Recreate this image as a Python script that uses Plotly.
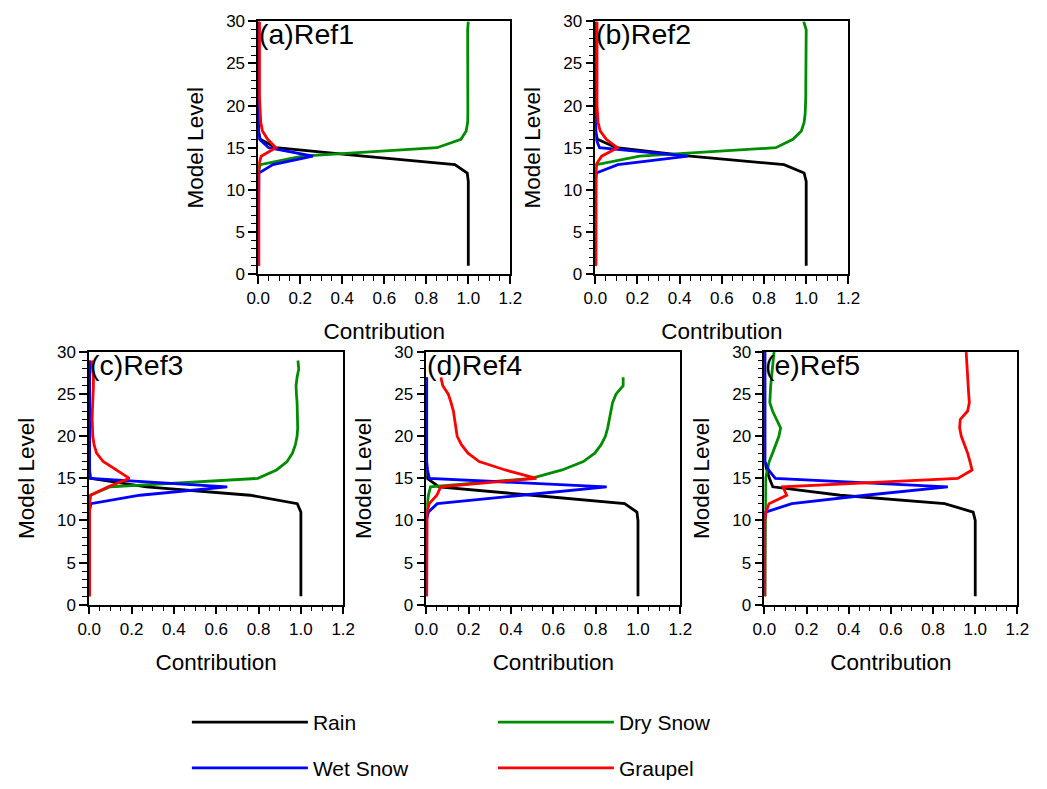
import plotly.graph_objects as go

# ---------------- data ----------------
levels_a = list(range(1, 31))
rain_a = [1.0]*11 + [0.995, 0.936, 0.50, 0.084, 0.01] + [0.0]*14
dry_a = [0.0]*12 + [0.01, 0.21, 0.851, 0.965, 0.99, 0.997, 0.998, 0.998, 0.997, 0.996,
                    0.996, 0.995, 0.995, 0.995, 0.996, 0.995, 0.997, 1.0]
wet_a = [0.0]*11 + [0.003, 0.07, 0.26, 0.05, 0.006] + [0.002]*14
graupel_a = [0.003]*13 + [0.014, 0.084, 0.045, 0.02, 0.012, 0.009, 0.007] + [0.006]*10

levels_b = list(range(1, 31))
rain_b = [1.0]*11 + [0.99, 0.895, 0.45, 0.10, 0.01] + [0.0]*14
dry_b = [0.0]*12 + [0.006, 0.21, 0.856, 0.937, 0.977, 0.99, 0.995] + [0.998]*9 + [1.0, 0.988]
wet_b = [0.0]*11 + [0.005, 0.107, 0.44, 0.02, 0.004] + [0.002]*14
graupel_b = [0.003]*12 + [0.004, 0.03, 0.105, 0.052, 0.023, 0.013, 0.01] + [0.008]*11

levels_c = list(range(1, 30))
rain_c = [1.0]*11 + [0.983, 0.76, 0.27, 0.005] + [0.0]*14
dry_c = [0.0]*12 + [0.006, 0.10, 0.797, 0.885, 0.935, 0.96, 0.974, 0.982, 0.985, 0.985,
                    0.984, 0.982, 0.979, 0.977, 0.982, 0.99, 0.986]
wet_c = [0.0]*11 + [0.008, 0.24, 0.652, 0.006] + [0.002]*14
graupel_c = [0.002]*12 + [0.006, 0.09, 0.19, 0.128, 0.066, 0.035, 0.023, 0.017, 0.015,
                          0.014, 0.015, 0.017, 0.02, 0.02, 0.02, 0.017, 0.012]

levels_d = list(range(1, 28))
rain_d = [1.0]*10 + [0.995, 0.937, 0.50, 0.06, 0.005] + [0.0]*12
dry_d = [0.0]*10 + [0.004, 0.005, 0.01, 0.02, 0.496, 0.642, 0.742, 0.796, 0.826, 0.846,
                    0.857, 0.865, 0.872, 0.88, 0.896, 0.93, 0.93]
wet_d = [0.0]*10 + [0.01, 0.052, 0.45, 0.852, 0.014, 0.006] + [0.002]*11
graupel_d = [0.002]*10 + [0.004, 0.014, 0.05, 0.068, 0.52, 0.373, 0.25, 0.197, 0.166,
                          0.146, 0.14, 0.135, 0.128, 0.117, 0.104, 0.078, 0.069]

levels_e = list(range(1, 31))
rain_e = [1.0]*10 + [0.99, 0.855, 0.36, 0.04, 0.024, 0.012] + [0.0]*14
dry_e = [0.003]*14 + [0.006, 0.014, 0.023, 0.039, 0.054, 0.069, 0.077, 0.059, 0.039,
                      0.026, 0.027, 0.03, 0.034, 0.038, 0.042, 0.046]
wet_e = [0.0]*10 + [0.006, 0.13, 0.48, 0.87, 0.052, 0.02] + [0.003]*14
graupel_e = [0.002]*10 + [0.008, 0.022, 0.106, 0.088, 0.917, 0.985, 0.975, 0.964, 0.949,
                          0.934, 0.926, 0.929, 0.964, 0.972, 0.969, 0.967, 0.964, 0.962,
                          0.96, 0.957]

panel_labels = ["(a)Ref1", "(b)Ref2", "(c)Ref3", "(d)Ref4", "(e)Ref5"]
series_names = ["Rain", "Dry Snow", "Wet Snow", "Graupel"]
series_colors = ["#000000", "#008c00", "#0000ff", "#ff0000"]

panels = [
    (levels_a, [rain_a, dry_a, wet_a, graupel_a]),
    (levels_b, [rain_b, dry_b, wet_b, graupel_b]),
    (levels_c, [rain_c, dry_c, wet_c, graupel_c]),
    (levels_d, [rain_d, dry_d, wet_d, graupel_d]),
    (levels_e, [rain_e, dry_e, wet_e, graupel_e]),
]

# ---------------- layout geometry (pixels of a 1047x789 page) ----------------
W, H = 1047, 789
boxes = [  # x0, x1, ytop, ybottom in px
    (252, 510, 12.7, 272),
    (597, 856, 12.7, 272),
    (79, 339, 352, 611.2),
    (424, 684, 352, 611.2),
    (770, 1029, 352, 611.2),
]

FONT = "Liberation Sans, Arial, Helvetica, sans-serif"
fig = go.Figure()

legend_of = {"Rain": "legend", "Dry Snow": "legend", "Wet Snow": "legend2", "Graupel": "legend2"}

for i, (lev, ser) in enumerate(panels):
    n = "" if i == 0 else str(i + 1)
    for name, col, vals in zip(series_names, series_colors, ser):
        fig.add_trace(go.Scatter(
            x=vals, y=lev, mode="lines", name=name,
            line=dict(color=col, width=2.8),
            xaxis="x" + n, yaxis="y" + n,
            showlegend=(i == 0), legend=legend_of[name],
        ))
    x0, x1, yt, yb = boxes[i]
    axis_common = dict(
        showline=True, mirror=True, linecolor="black", linewidth=1.5,
        showgrid=False, zeroline=False, ticks="outside", ticklen=8, tickwidth=1.5,
        tickcolor="black", tickfont=dict(family=FONT, size=17, color="black"),
        layer="below traces",
    )
    fig.update_layout(**{
        "xaxis" + n: dict(
            axis_common, domain=[x0 / W, x1 / W], range=[0, 1.2], dtick=0.2, tick0=0,
            tickformat=".1f", anchor="y" + n,
            minor=dict(dtick=0.05, ticklen=5, tickwidth=1, ticks="outside", tickcolor="black"),
            title=dict(text="Contribution", font=dict(family=FONT, size=22.5, color="black"), standoff=16),
        ),
        "yaxis" + n: dict(
            axis_common, domain=[1 - yb / H, 1 - yt / H], range=[0, 30], dtick=5, tick0=0,
            anchor="x" + n,
            minor=dict(dtick=1, ticklen=5, tickwidth=1, ticks="outside", tickcolor="black"),
            title=dict(text="Model Level", font=dict(family=FONT, size=22.5, color="black"), standoff=16),
        ),
    })
    fig.add_annotation(
        text=panel_labels[i], xref="x%s domain" % n, yref="y%s domain" % n,
        x=-0.006, y=1.022, xanchor="left", yanchor="top", showarrow=False,
        font=dict(family=FONT, size=28.5, color="black"),
    )

leg_common = dict(
    orientation="h", xanchor="left", yanchor="middle", itemwidth=116,
    entrywidth=175, entrywidthmode="pixels", bgcolor="rgba(0,0,0,0)",
    font=dict(family=FONT, size=21, color="black"), traceorder="normal",
    itemclick=False, itemdoubleclick=False,
)
fig.update_layout(
    width=W, height=H, margin=dict(l=0, r=0, t=0, b=0),
    paper_bgcolor="white", plot_bgcolor="white",
    legend=dict(leg_common, x=179 / W, y=1 - 732 / H),
    legend2=dict(leg_common, x=179 / W, y=1 - 779 / H),
    font=dict(family=FONT, color="black"),
)

fig.write_html("out.html")
